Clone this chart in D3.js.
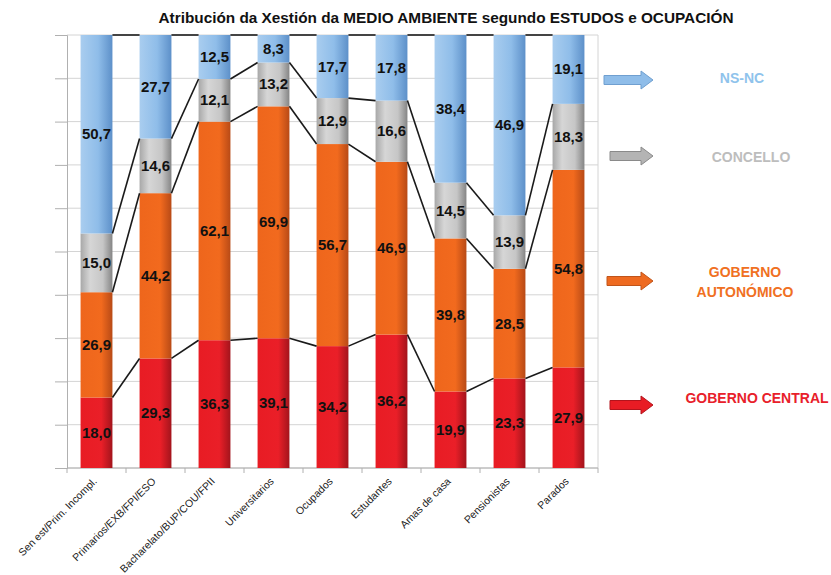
<!DOCTYPE html>
<html>
<head>
<meta charset="utf-8">
<script src="https://cdn.jsdelivr.net/npm/d3@7"></script>
<style>
  body { margin: 0; background: #fff; }
  svg { display: block; font-family: 'Liberation Sans', Arial, sans-serif; }
</style>
</head>
<body>
<div class="svg-container"></div>
<script>
const categories = [
  'Sen est/Prim. Incompl.', 'Primarios/EXB/FPI/ESO', 'Bacharelato/BUP/COU/FPII',
  'Universitarios', 'Ocupados', 'Estudantes', 'Amas de casa', 'Pensionistas', 'Parados'
]
const gobernoCentral = [18.0, 29.3, 36.3, 39.1, 34.2, 36.2, 19.9, 23.3, 27.9]
const gobernoAutonomico = [26.9, 44.2, 62.1, 69.9, 56.7, 46.9, 39.8, 28.5, 54.8]
const concello = [15.0, 14.6, 12.1, 13.2, 12.9, 16.6, 14.5, 13.9, 18.3]
const nsnc = [50.7, 27.7, 12.5, 8.3, 17.7, 17.8, 38.4, 46.9, 19.1]
const seriesKeys = ['central', 'autonomico', 'concello', 'nsnc']
const gridTicks = [0, 0.1, 0.2, 0.3, 0.4, 0.5, 0.6, 0.7, 0.8, 0.9, 1]

const width = 831
const height = 575
const plotLeft = 67
const plotRight = 598
const plotTop = 35
const plotBottom = 468

const rows = categories.map((c, i) => ({
  cat: c,
  central: gobernoCentral[i],
  autonomico: gobernoAutonomico[i],
  concello: concello[i],
  nsnc: nsnc[i]
}))

const stack = d3.stack().keys(seriesKeys).offset(d3.stackOffsetExpand)
const layers = stack(rows)

const xScale = d3.scaleBand().domain(categories).range([plotLeft, plotRight]).paddingInner(0.46).paddingOuter(0.23)
const yScale = d3.scaleLinear().domain([0, 1]).range([plotBottom, plotTop])

const svg = d3.select('.svg-container').append('svg').attr('width', width).attr('height', height)

// gradients
const defs = svg.append('defs')
const grads = {
  nsnc: [['0%', '#a9cdef'], ['55%', '#8fbde9'], ['100%', '#5d90c9']],
  concello: [['0%', '#a8a8a8'], ['30%', '#d6d6d6'], ['70%', '#c6c6c6'], ['100%', '#858585']],
  autonomico: [['0%', '#ee661c'], ['65%', '#f26a1e'], ['100%', '#b84a16']],
  central: [['0%', '#e81c24'], ['65%', '#ea1f28'], ['100%', '#a3141c']]
}
for (const k of seriesKeys) {
  const g = defs.append('linearGradient').attr('id', 'g-' + k).attr('x1', 0).attr('x2', 1).attr('y1', 0).attr('y2', 0)
  grads[k].forEach(([o, c]) => g.append('stop').attr('offset', o).attr('stop-color', c))
}

// grid
svg.append('g').selectAll('line').data(gridTicks).enter().append('line')
  .attr('x1', plotLeft).attr('x2', plotRight)
  .attr('y1', (d) => yScale(d)).attr('y2', (d) => yScale(d))
  .attr('stroke', '#d4d4d4').attr('stroke-width', 1)
svg.append('line').attr('x1', plotRight).attr('x2', plotRight).attr('y1', plotTop).attr('y2', plotBottom)
  .attr('stroke', '#d4d4d4')

// axes
const yAxis = d3.axisLeft(yScale).tickValues(gridTicks).tickSize(12).tickFormat('')
const yG = svg.append('g').attr('transform', 'translate(' + plotLeft + ',0)').call(yAxis)
yG.selectAll('path, line').attr('stroke', '#b0b0b0')

const bounds = d3.range(categories.length + 1).map((i) => plotLeft + i * xScale.step())
svg.append('line').attr('x1', plotLeft).attr('x2', plotRight).attr('y1', plotBottom).attr('y2', plotBottom).attr('stroke', '#b0b0b0')
svg.append('g').selectAll('line').data(bounds).enter().append('line')
  .attr('x1', (d) => d).attr('x2', (d) => d).attr('y1', plotBottom).attr('y2', plotBottom + 5)
  .attr('stroke', '#b0b0b0')

// bars
const bw = xScale.bandwidth()
svg.append('g').selectAll('g').data(layers).enter().append('g')
  .attr('fill', (d) => 'url(#g-' + d.key + ')')
  .selectAll('rect').data((d) => d).enter().append('rect')
  .attr('x', (d) => xScale(d.data.cat))
  .attr('width', bw)
  .attr('y', (d) => yScale(d[1]))
  .attr('height', (d) => yScale(d[0]) - yScale(d[1]))

// series lines
const segs = []
layers.forEach((layer) => {
  for (let i = 0; i < layer.length - 1; i++) {
    segs.push([xScale(categories[i]) + bw, yScale(layer[i][1]), xScale(categories[i + 1]), yScale(layer[i + 1][1])])
  }
})
svg.append('g').selectAll('line').data(segs).enter().append('line')
  .attr('x1', (d) => d[0]).attr('y1', (d) => d[1]).attr('x2', (d) => d[2]).attr('y2', (d) => d[3])
  .attr('stroke', '#1a1a1a').attr('stroke-width', 1.6)

// value labels
layers.forEach((layer) => {
  svg.append('g').selectAll('text').data(layer).enter().append('text')
    .attr('x', (d) => xScale(d.data.cat) + bw / 2)
    .attr('y', (d) => (yScale(d[0]) + yScale(d[1])) / 2 + 5)
    .attr('text-anchor', 'middle')
    .attr('font-size', 15).attr('font-weight', 'bold').attr('fill', '#111')
    .text((d) => d.data[layer.key].toFixed(1).replace('.', ','))
})

// category labels
svg.append('g').selectAll('text').data(categories).enter().append('text')
  .attr('transform', (d) => 'translate(' + (xScale(d) + bw / 2 + 1) + ',' + 482 + ') rotate(-45)')
  .attr('text-anchor', 'end')
  .attr('font-size', 10.5).attr('fill', '#222')
  .text((d) => d)

// title
svg.append('text').attr('x', 446).attr('y', 23).attr('text-anchor', 'middle')
  .attr('font-family', "'Liberation Sans Narrow', 'Liberation Sans', Arial, sans-serif")
  .attr('font-size', 15).attr('font-weight', 'bold').attr('fill', '#111')
  .attr('textLength', 575).attr('lengthAdjust', 'spacingAndGlyphs')
  .text('Atribución da Xestión da MEDIO AMBIENTE segundo ESTUDOS e OCUPACIÓN')

// legend
const legendItems = [
  { y: 80, x0: 604, fill: '#8fbde9', stroke: '#6f9fd0', color: '#8fc3ec', lines: ['NS-NC'], ty: [83], tx: 742 },
  { y: 156, x0: 610, fill: '#b4b4b4', stroke: '#8a8a8a', color: '#bdbdbd', lines: ['CONCELLO'], ty: [162], tx: 751 },
  { y: 281, x0: 607, fill: '#ee6a20', stroke: '#c0541a', color: '#f07022', lines: ['GOBERNO', 'AUTONÓMICO'], ty: [277, 297], tx: 745 },
  { y: 405, x0: 610, fill: '#e81c24', stroke: '#b3141c', color: '#e8202a', lines: ['GOBERNO CENTRAL'], ty: [403], tx: 757 }
]
const arrow = (x0, y) => {
  const x1 = 653, hl = 12, sh = 4.5, hh = 9
  return 'M' + x0 + ',' + (y - sh) + 'L' + (x1 - hl) + ',' + (y - sh) + 'L' + (x1 - hl) + ',' + (y - hh) +
    'L' + x1 + ',' + y + 'L' + (x1 - hl) + ',' + (y + hh) + 'L' + (x1 - hl) + ',' + (y + sh) + 'L' + x0 + ',' + (y + sh) + 'Z'
}
legendItems.forEach((it) => {
  svg.append('path').attr('d', arrow(it.x0, it.y)).attr('fill', it.fill).attr('stroke', it.stroke).attr('stroke-width', 1)
  it.lines.forEach((t, j) => {
    svg.append('text').attr('x', it.tx).attr('y', it.ty[j]).attr('text-anchor', 'middle')
      .attr('font-size', 14).attr('font-weight', 'bold').attr('fill', it.color).text(t)
  })
})
</script>
</body>
</html>
